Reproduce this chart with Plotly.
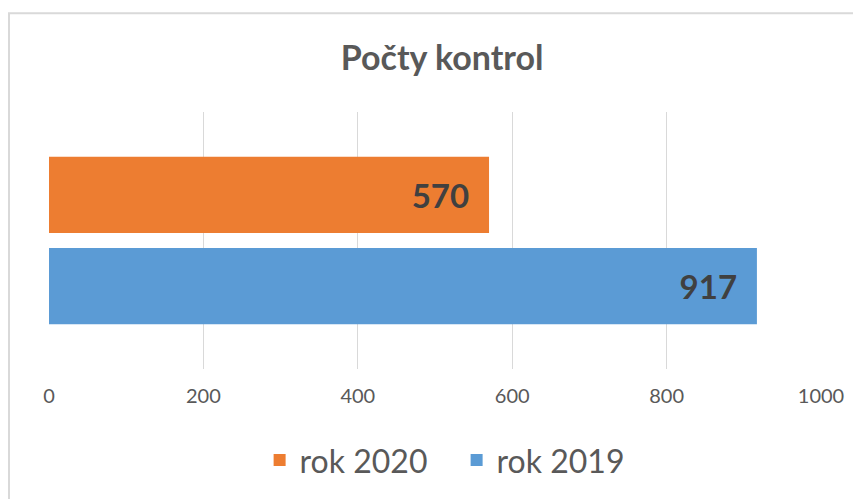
import plotly.graph_objects as go

title = "Počty kontrol"
category = [""]
series_names = ["rok 2019", "rok 2020"]
values_2019 = [917]
values_2020 = [570]
tick_vals = [0, 200, 400, 600, 800, 1000]

FONT = "Lato"
GREY = "#595959"

fig = go.Figure()
fig.add_trace(go.Bar(
    name=series_names[0], y=category, x=values_2019, orientation="h",
    marker=dict(color="#5B9BD5", line=dict(width=0)),
    text=[f"<b>{v}</b>\u00a0\u00a0" for v in values_2019],
    textposition="inside", insidetextanchor="end",
    textfont=dict(family=FONT, size=33, color="#404040"),
    legendrank=2,
))
fig.add_trace(go.Bar(
    name=series_names[1], y=category, x=values_2020, orientation="h",
    marker=dict(color="#ED7D31", line=dict(width=0)),
    text=[f"<b>{v}</b>\u00a0\u00a0" for v in values_2020],
    textposition="inside", insidetextanchor="end",
    textfont=dict(family=FONT, size=33, color="#404040"),
    legendrank=1,
))

fig.update_layout(
    width=853, height=491,
    margin=dict(l=41, r=40, t=104, b=129),
    paper_bgcolor="white", plot_bgcolor="white",
    barmode="group", bargap=0.29, bargroupgap=0.164,
    title=dict(text=f"<b>{title}</b>", x=0.509, xanchor="center", y=0.898, yanchor="middle",
               font=dict(family=FONT, size=34, color=GREY)),
    xaxis=dict(range=[0, 1000], tickvals=tick_vals, showgrid=True, gridcolor="#D9D9D9",
               gridwidth=1, zeroline=False, showline=False,
               ticks="outside", ticklen=9, tickcolor="rgba(0,0,0,0)",
               tickfont=dict(family=FONT, size=20, color=GREY)),
    yaxis=dict(showticklabels=False, showgrid=False, zeroline=False, showline=False),
    legend=dict(orientation="h", x=0.528, xanchor="center", y=-0.35, yanchor="middle",
                font=dict(family=FONT, size=32, color=GREY), traceorder="normal",
                entrywidthmode="pixels", entrywidth=152),
    showlegend=True,
    uniformtext=dict(minsize=10, mode="show"),
)
fig.add_shape(type="rect", xref="paper", yref="paper", x0=-0.0518, x1=1.2, y0=-0.8, y1=1.384,
              line=dict(color="#D9D9D9", width=2), fillcolor="rgba(0,0,0,0)", layer="below")

fig.write_html("out.html")
